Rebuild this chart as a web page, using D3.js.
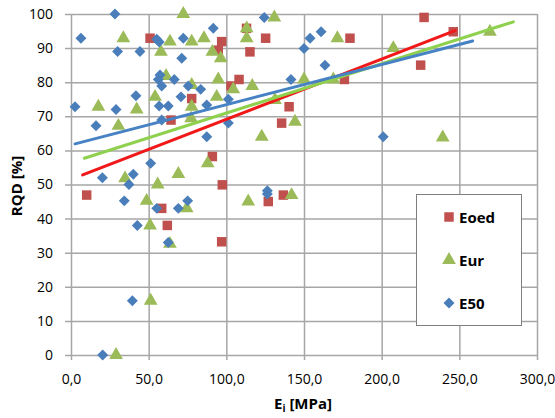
<!DOCTYPE html>
<html><head><meta charset="utf-8">
<script src="https://cdn.jsdelivr.net/npm/d3@7"></script>
<style>body{margin:0;background:#fff}svg{display:block}text{font-family:"Open Sans",Lato,sans-serif}</style>
</head><body>
<script>
const xTicks = [0,50,100,150,200,250,300];
const yTicks = [0,10,20,30,40,50,60,70,80,90,100];
const seriesNames = ["Eoed","Eur","E50"];
const eoed = [[10.1,46.9],[50.9,92.9],[58.4,43],[62,38],[64.4,68.9],[77.7,75.2],[91,58.2],[94.8,89.4],[97,91.9],[97.4,49.9],[97,33.2],[103,78.9],[108.2,80.8],[113,95.8],[115.2,88.9],[125.3,92.9],[127,45],[136.7,46.9],[135.6,68],[140.4,72.8],[176,80.8],[179.6,92.9],[225.1,85],[227.3,99],[246.1,94.8]];
const eur = [[29,0],[51.3,15.9],[63.7,32.6],[50.9,38],[48.7,45.2],[74.5,43],[55.8,50],[34.8,51.8],[69.1,53.1],[88,56.2],[30.5,67.2],[17.6,72.8],[42.3,72],[54.1,75.7],[77.7,72.8],[77.3,69.4],[93.8,75.7],[77.7,79.2],[61.2,81.8],[94.8,80.8],[96.4,87],[57.9,88.9],[91,88.9],[33.7,92.9],[63.7,91.9],[77.7,91.9],[85.6,92.9],[72.3,100],[113.1,95.8],[113.1,92.9],[130.9,99],[171.5,92.9],[104.5,77.9],[116.7,78.9],[150,80.8],[168.9,80.8],[131.3,74.8],[144.2,68.4],[122.8,64],[114.1,45],[142,46.9],[207.5,90],[239.3,63.8],[269.7,94.8]];
const e50 = [[20.4,0],[39.5,15.9],[62.6,33],[42.7,38],[55.2,43],[69.1,43],[75.1,45.2],[34.3,45.2],[37.3,50],[40.1,53],[20.2,52],[51.3,56.2],[87.4,64],[16.1,67.2],[58.4,68.9],[2.6,72.8],[29,72],[56.8,73],[62.6,73],[87.4,73.3],[41.8,76],[70.8,75.7],[58.4,78.9],[75.5,78.9],[83.5,77.9],[57.3,82.1],[56.2,80.8],[66.5,80.8],[71.3,87],[30,89],[44.4,89],[6.4,92.9],[55.2,92.6],[56.8,91.8],[72.3,92.9],[91.6,95.8],[28.3,100],[124.4,99],[150,89.9],[153.9,92.9],[161,94.8],[163.5,85],[141.6,80.8],[101.3,75],[101.3,68],[126.4,48.2],[126.4,47.2],[201,64]];
const trendEoed = [[7.5,52.8],[247.2,95.1]];
const trendEur = [[8.6,57.7],[284.8,97.7]];
const trendE50 = [[2.6,61.9],[258.6,92.1]];

const W=555,H=418;
const svg=d3.select("body").append("svg").attr("width",W).attr("height",H);
const x=d3.scaleLinear().domain([0,300]).range([71,537]);
const y=d3.scaleLinear().domain([0,100]).range([355,14]);
const grid="#a6a6a6";

const ya=d3.axisLeft(y).tickValues(yTicks).tickSize(-(x.range()[1]-x.range()[0])).tickFormat(d=>d).tickPadding(8);
const gy=svg.append("g").attr("transform",`translate(${x.range()[0]},0)`).call(ya);
gy.select(".domain").remove();
gy.selectAll("line").attr("stroke",grid).attr("stroke-width",1.5).attr("x1",-6);
gy.selectAll("text").attr("font-size",14).attr("fill","#000").attr("x",-18);

const xa=d3.axisBottom(x).tickValues(xTicks).tickSize(-(y.range()[0]-y.range()[1])).tickFormat(d=>d.toFixed(1).replace(".",",")).tickPadding(10);
const gx=svg.append("g").attr("transform",`translate(0,${y.range()[0]})`).call(xa);
gx.select(".domain").remove();
gx.selectAll("line").attr("stroke",grid).attr("stroke-width",1.5).attr("y1",5);
gx.selectAll("text").attr("font-size",14).attr("fill","#000").attr("y",19);

const sq=d3.symbol().type(d3.symbolSquare).size(90);
const tri=d3.symbol().type(d3.symbolTriangle).size(82);
const diamondType={draw(ctx,size){const r=Math.sqrt(size/2);ctx.moveTo(0,-r);ctx.lineTo(r,0);ctx.lineTo(0,r);ctx.lineTo(-r,0);ctx.closePath();}};
const dia=d3.symbol().type(diamondType).size(60);
function plot(data,sym,color){
  svg.append("g").selectAll("path").data(data).join("path")
    .attr("d",sym).attr("fill",color)
    .attr("transform",d=>`translate(${x(d[0])},${y(d[1])})`);
}
plot(eoed,sq,"#c0504d");
plot(eur,tri,"#9bbb59");
plot(e50,dia,"#4a7ebb");

const line=d3.line().x(d=>x(d[0])).y(d=>y(d[1]));
[[trendEoed,"#f01818"],[trendEur,"#8fd14f"],[trendE50,"#4682c4"]].forEach(([d,c])=>{
  svg.append("path").datum(d).attr("d",line).attr("stroke",c).attr("stroke-width",3).attr("fill","none").attr("stroke-linecap","round");
});

const xt=svg.append("text").attr("x",303).attr("y",409).attr("text-anchor","middle").attr("font-size",15).attr("font-weight","bold");
xt.append("tspan").text("E");
xt.append("tspan").text("i").attr("font-size",10).attr("dy",3);
xt.append("tspan").text(" [MPa]").attr("dy",-3);
svg.append("text").attr("transform","translate(22,186) rotate(-90)").attr("text-anchor","middle").attr("font-size",15).attr("font-weight","bold").text("RQD [%]");

const lg=svg.append("g");
lg.append("rect").attr("x",416.5).attr("y",194.5).attr("width",105).attr("height",131).attr("fill","#fff").attr("stroke","#7f7f7f");
const lsyms=[sq,tri,dia], lcols=["#c0504d","#9bbb59","#4a7ebb"], ly=[217,260,303];
seriesNames.forEach((n,i)=>{
  lg.append("path").attr("d",lsyms[i]).attr("fill",lcols[i]).attr("transform",`translate(449,${ly[i]})`);
  lg.append("text").attr("x",459).attr("y",ly[i]+5.5).attr("font-size",15).attr("font-weight","bold").text(n);
});
</script>
</body></html>
